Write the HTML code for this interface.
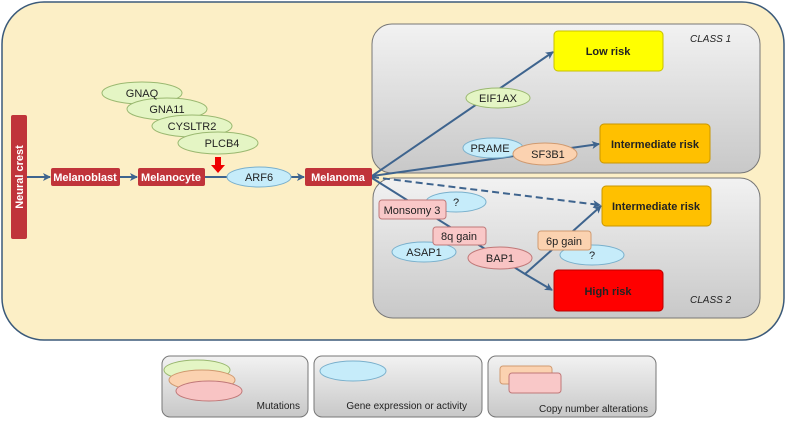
<!DOCTYPE html>
<html><head><style>body{margin:0;background:#fff}svg{display:block}text{font-family:"Liberation Sans",sans-serif}</style></head><body>
<svg width="787" height="421" viewBox="0 0 787 421" xmlns="http://www.w3.org/2000/svg">
<defs>
<linearGradient id="g" x1="0" y1="0" x2="0" y2="1"><stop offset="0" stop-color="#f2f2f2"/><stop offset="1" stop-color="#c8c8c8"/></linearGradient>
<marker id="a" markerWidth="8" markerHeight="8" refX="7" refY="4" orient="auto" markerUnits="userSpaceOnUse"><path d="M0,0 L8,4 L0,8 L2,4 z" fill="#3e648e"/></marker>
</defs>
<rect x="2" y="2" width="782" height="338" rx="42" fill="#fcefc6" stroke="#3b5a7a" stroke-width="1.5"/>
<rect x="372" y="24" width="388" height="149" rx="20" fill="url(#g)" stroke="#777"/>
<rect x="373" y="178" width="387" height="140" rx="20" fill="url(#g)" stroke="#777"/>
<g font-size="10" font-style="italic" fill="#222"><text x="690" y="42">CLASS 1</text><text x="690" y="303">CLASS 2</text></g>
<g stroke="#3e648e" stroke-width="2" fill="none">
<line x1="27" y1="177" x2="50" y2="177" marker-end="url(#a)"/>
<line x1="120" y1="177" x2="137" y2="177" marker-end="url(#a)"/>
<line x1="205" y1="177" x2="228" y2="177"/>
<line x1="291" y1="177" x2="304" y2="177" marker-end="url(#a)"/>
<line x1="372" y1="176" x2="553" y2="52" marker-end="url(#a)"/>
<line x1="372" y1="176" x2="599" y2="144" marker-end="url(#a)"/>
<line x1="372" y1="177" x2="600" y2="205" stroke-dasharray="7,4" marker-end="url(#a)"/>
<polyline points="372,178 525,274 552,290" marker-end="url(#a)"/>
<line x1="525" y1="274" x2="601" y2="206" marker-end="url(#a)"/>
</g>
<path d="M215,157 h6 v8 h4 l-7,8 l-7,-8 h4z" fill="#e00"/>
<g stroke="#9ab870" fill="#e4f5c4"><ellipse cx="142" cy="93" rx="40" ry="11"/><ellipse cx="167" cy="109" rx="40" ry="11"/><ellipse cx="192" cy="126" rx="40" ry="11"/><ellipse cx="218" cy="143" rx="40" ry="11"/><ellipse cx="498" cy="98" rx="32" ry="10"/></g>
<g font-size="11" fill="#222" text-anchor="middle"><text x="142" y="97">GNAQ</text><text x="167" y="113">GNA11</text><text x="192" y="130">CYSLTR2</text><text x="222" y="147">PLCB4</text><text x="498" y="102">EIF1AX</text></g>
<g stroke="#7ab0cc" fill="#c6ecfa"><ellipse cx="259" cy="177" rx="32" ry="10"/><ellipse cx="493" cy="148" rx="30" ry="10"/><ellipse cx="456" cy="202" rx="30" ry="10"/><ellipse cx="424" cy="252" rx="32" ry="10"/><ellipse cx="592" cy="255" rx="32" ry="10"/></g>
<ellipse cx="545" cy="154" rx="32" ry="11" fill="#fbd2b0" stroke="#d09a70"/>
<ellipse cx="500" cy="258" rx="32" ry="11" fill="#f8c4c4" stroke="#c07878"/>
<g stroke="#c07878" fill="#f9c8c8"><rect x="379" y="200" width="67" height="19" rx="3"/><rect x="433" y="227" width="53" height="18" rx="3"/></g>
<rect x="538" y="231" width="53" height="19" rx="3" fill="#fbd2b0" stroke="#d09a70"/>
<g font-size="11" fill="#222" text-anchor="middle"><text x="259" y="181">ARF6</text><text x="490" y="152">PRAME</text><text x="548" y="158">SF3B1</text><text x="456" y="206">?</text><text x="424" y="256">ASAP1</text><text x="592" y="259">?</text><text x="500" y="262">BAP1</text><text x="412" y="214">Monsomy 3</text><text x="459" y="240">8q gain</text><text x="564" y="245">6p gain</text></g>
<g fill="#c0343a"><rect x="11" y="115" width="16" height="124" rx="2"/><rect x="51" y="168" width="69" height="18" rx="2"/><rect x="138" y="168" width="67" height="18" rx="2"/><rect x="305" y="168" width="67" height="18" rx="2"/></g>
<g font-size="11" font-weight="bold" fill="#fff" text-anchor="middle"><text x="85" y="181">Melanoblast</text><text x="171" y="181">Melanocyte</text><text x="338" y="181">Melanoma</text><text transform="translate(23,177) rotate(-90)">Neural crest</text></g>
<rect x="554" y="31" width="109" height="40" rx="4" fill="#ffff00" stroke="#c8c000"/>
<rect x="600" y="124" width="110" height="39" rx="4" fill="#ffc000" stroke="#c89600"/>
<rect x="602" y="186" width="109" height="40" rx="4" fill="#ffc000" stroke="#c89600"/>
<rect x="554" y="270" width="109" height="41" rx="4" fill="#ff0000" stroke="#b00"/>
<g font-size="11" font-weight="bold" fill="#222" text-anchor="middle"><text x="608" y="55">Low risk</text><text x="655" y="148">Intermediate risk</text><text x="656" y="210">Intermediate risk</text><text x="608" y="295">High risk</text></g>
<g fill="url(#g)" stroke="#777"><rect x="162" y="356" width="146" height="61" rx="8"/><rect x="314" y="356" width="168" height="61" rx="8"/><rect x="488" y="356" width="168" height="61" rx="8"/></g>
<ellipse cx="197" cy="370" rx="33" ry="10" fill="#e4f5c4" stroke="#9ab870"/>
<ellipse cx="202" cy="380" rx="33" ry="10" fill="#fbd2b0" stroke="#d09a70"/>
<ellipse cx="209" cy="391" rx="33" ry="10" fill="#f8c4c4" stroke="#c07878"/>
<ellipse cx="353" cy="371" rx="33" ry="10" fill="#c6ecfa" stroke="#7ab0cc"/>
<rect x="500" y="366" width="52" height="18" rx="3" fill="#fbd2b0" stroke="#d09a70"/>
<rect x="509" y="373" width="52" height="20" rx="3" fill="#f9c8c8" stroke="#c07878"/>
<g font-size="10" fill="#222" text-anchor="end"><text x="300" y="409">Mutations</text><text x="467" y="409">Gene expression or activity</text><text x="648" y="412">Copy number alterations</text></g>
</svg>
</body></html>
